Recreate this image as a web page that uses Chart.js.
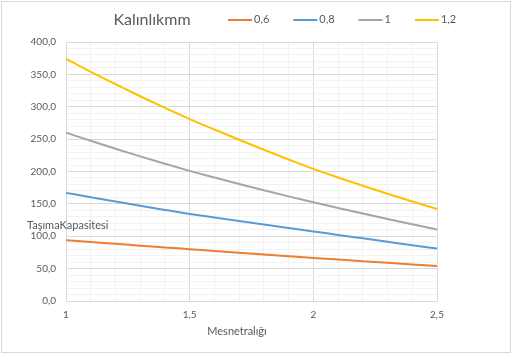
<!DOCTYPE html>
<html>
<head>
<meta charset="utf-8">
<script src="https://cdn.jsdelivr.net/npm/chart.js@4.4.0/dist/chart.umd.min.js"></script>
<style>
  html, body { margin: 0; padding: 0; background: #fff; }
  #wrap { position: relative; width: 512px; height: 354px; }
  #frame { position: absolute; left: 1px; top: 1px; width: 508px; height: 350px; border: 1px solid #d9d9d9; pointer-events: none; }
</style>
</head>
<body>
<div id="wrap"><canvas id="chart"></canvas><div id="frame"></div></div>
<script>
// Mesnet aralığı (x) ve kalınlığa göre taşıma kapasitesi
const spans = [1, 1.1, 1.2, 1.3, 1.4, 1.5, 1.6, 1.7, 1.8, 1.9, 2, 2.1, 2.2, 2.3, 2.4, 2.5];
const seriesNames = ['0,6', '0,8', '1', '1,2'];
const cap06 = [94, 91.1, 88.3, 85.5, 82.7, 80, 77.3, 74.6, 71.9, 69.2, 66.5, 64, 61.5, 59, 56.5, 54];
const cap08 = [167, 160.2, 153.6, 147.1, 140.7, 134.5, 128.9, 123.4, 118, 112.7, 107.5, 102.1, 96.8, 91.5, 86.2, 81];
const cap10 = [260, 247.4, 235.2, 223.4, 212, 201, 190.7, 180.7, 171, 161.6, 152.5, 143.7, 135.1, 126.7, 118.5, 110.5];
const cap12 = [374, 354, 334.8, 316.2, 298.2, 281, 264.8, 249, 233.6, 218.6, 204, 190.8, 178, 165.6, 153.6, 142];
const seriesColors = ['#ED7D31', '#5B9BD5', '#A5A5A5', '#FFC000'];

const chartTitle = 'Kalınlıkmm';
const xTitle = 'Mesnetralığı';
const yTitle = 'TaşımaKapasitesi';

const textColor = '#595959';
const majorGrid = '#d9d9d9';
const minorGrid = '#f2f2f2';
const fontFamily = 'Lato, "Open Sans", sans-serif';

function fmtComma(v, digits) {
  return (digits == null ? String(v) : v.toFixed(digits)).replace('.', ',');
}

// title + inline legend + axis titles, Excel style
const decorPlugin = {
  id: 'decor',
  afterDraw(chart) {
    const ctx = chart.ctx;
    ctx.save();
    ctx.fillStyle = textColor;
    ctx.textBaseline = 'middle';

    ctx.font = '16px ' + fontFamily;
    ctx.textAlign = 'center';
    ctx.fillText(chartTitle, 152, 20);

    ctx.font = '11px ' + fontFamily;
    ctx.textAlign = 'left';
    let x = 228;
    chart.data.datasets.forEach(ds => {
      ctx.strokeStyle = ds.borderColor;
      ctx.lineWidth = 2;
      ctx.beginPath();
      ctx.moveTo(x, 20);
      ctx.lineTo(x + 24, 20);
      ctx.stroke();
      ctx.fillText(ds.label, x + 26, 19);
      x += 26 + ctx.measureText(ds.label).width + 24;
    });

    ctx.fillText(yTitle, 27, 225);
    ctx.textAlign = 'center';
    ctx.fillText(xTitle, 237, 331);
    ctx.restore();
  }
};

const datasets = [cap06, cap08, cap10, cap12].map((values, i) => ({
  label: seriesNames[i],
  data: values,
  borderColor: seriesColors[i],
  backgroundColor: seriesColors[i],
  borderWidth: 2,
  pointRadius: 0,
  cubicInterpolationMode: 'monotone',
  fill: false
}));

new Chart(document.getElementById('chart').getContext('2d'), {
  type: 'line',
  data: {
    labels: spans.map(v => fmtComma(v)),
    datasets: datasets
  },
  options: {
    responsive: true,
    maintainAspectRatio: false,
    animation: false,
    layout: {
      padding: { left: 0, right: 75, top: 42, bottom: 33 }
    },
    plugins: {
      legend: { display: false },
      title: { display: false },
      tooltip: { enabled: false }
    },
    scales: {
      x: {
        offset: false,
        afterFit: function(scale) { scale.height = 20; },
        grid: {
          drawTicks: false,
          color: function(c) { return c.index % 5 === 0 ? majorGrid : minorGrid; }
        },
        border: { color: majorGrid },
        ticks: {
          autoSkip: false,
          maxRotation: 0,
          padding: 8,
          color: textColor,
          font: { family: fontFamily, size: 10 },
          callback: function(value, index) {
            return index % 5 === 0 ? this.getLabelForValue(value) : '';
          }
        }
      },
      y: {
        min: 0,
        max: 400,
        afterFit: function(scale) { scale.width = 66; },
        grid: {
          drawTicks: false,
          color: function(c) { return c.tick.value % 50 === 0 ? majorGrid : minorGrid; }
        },
        border: { color: majorGrid },
        ticks: {
          stepSize: 10,
          autoSkip: false,
          padding: 10,
          color: textColor,
          font: { family: fontFamily, size: 10 },
          callback: function(value) {
            return value % 50 === 0 ? fmtComma(value, 1) : '';
          }
        }
      }
    }
  },
  plugins: [decorPlugin]
});
</script>
</body>
</html>
